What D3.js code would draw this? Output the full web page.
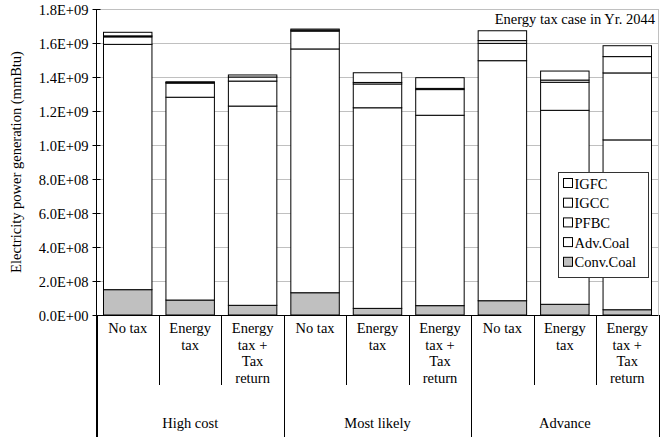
<!DOCTYPE html>
<html><head><meta charset="utf-8">
<script src="https://cdn.jsdelivr.net/npm/d3@7"></script>
<style>body{margin:0;background:#fff}svg{display:block}text{font-family:"Liberation Serif","Times New Roman",serif;fill:#000}</style>
</head><body><svg id="c" width="666" height="437"></svg>
<script>
const groups = ["High cost", "Most likely", "Advance"];
const subCats = [["No tax"], ["Energy", "tax"], ["Energy", "tax +", "Tax", "return"]];
const seriesNames = ["Conv.Coal", "Adv.Coal", "PFBC", "IGCC", "IGFC"];
const convCoal = [0.149e9, 0.088e9, 0.057e9, 0.131e9, 0.039e9, 0.055e9, 0.084e9, 0.063e9, 0.031e9];
const advCoal  = [1.443e9, 1.193e9, 1.172e9, 1.434e9, 1.180e9, 1.120e9, 1.412e9, 1.141e9, 0.999e9];
const pfbc     = [0.044e9, 0.083e9, 0.147e9, 0.105e9, 0.140e9, 0.151e9, 0.102e9, 0.165e9, 0.394e9];
const igcc     = [0.006e9, 0.004e9, 0.024e9, 0.005e9, 0.009e9, 0.007e9, 0.016e9, 0.013e9, 0.096e9];
const igfc     = [0.021e9, 0.004e9, 0.012e9, 0.007e9, 0.057e9, 0.063e9, 0.058e9, 0.053e9, 0.064e9];
const yTicks = [0, 2e8, 4e8, 6e8, 8e8, 1e9, 1.2e9, 1.4e9, 1.6e9, 1.8e9];
const titleText = "Energy tax case in Yr. 2044";
const yLabel = "Electricity power generation (mmBtu)";

const seriesVals = [convCoal, advCoal, pfbc, igcc, igfc];
const fills = ["#c0c0c0", "#ffffff", "#ffffff", "#ffffff", "#ffffff"];
const FS = 14.5;
const bars = [];
groups.forEach((g, gi) => subCats.forEach((s, si) => bars.push({g: gi, s: si})));
const rows = bars.map((b, i) => {
  const r = {id: i};
  seriesNames.forEach((n, k) => r[n] = seriesVals[k][i]);
  return r;
});
const stack = d3.stack().keys(seriesNames)(rows);

const svg = d3.select("#c");
const L = 96.5, R = 658.5, T = 9, B = 315;
const x = d3.scaleBand().domain(d3.range(bars.length)).range([L, R]).paddingInner(0.224).paddingOuter(0.112);
const y = d3.scaleLinear().domain([0, 1.8e9]).range([B, T]);

// gridlines
svg.append("g").selectAll("line").data(yTicks.slice(1)).join("line")
  .attr("x1", L).attr("x2", R).attr("y1", d => Math.round(y(d)) + 0.5).attr("y2", d => Math.round(y(d)) + 0.5)
  .attr("stroke", "#c0c0c0").attr("stroke-width", 1);
svg.append("line").attr("x1", R).attr("x2", R).attr("y1", T).attr("y2", B).attr("stroke", "#c0c0c0");

// bars
svg.append("g").selectAll("g").data(stack).join("g")
  .attr("fill", (d, i) => fills[i])
  .selectAll("rect").data(d => d).join("rect")
  .attr("x", (d, i) => x(i)).attr("width", x.bandwidth())
  .attr("y", d => y(d[1])).attr("height", d => y(d[0]) - y(d[1]))
  .attr("stroke", "#000").attr("stroke-width", 1);

// y axis
const yAxis = d3.axisLeft(y).tickValues(yTicks).tickSizeInner(4).tickSizeOuter(0)
  .tickFormat(d => { const e = d3.format(".1e")(d); return d === 0 ? "0.0E+00" : e.replace("e+", "E+0"); });
const ya = svg.append("g").attr("transform", `translate(${L},0)`).call(yAxis);
ya.attr("font-family", null).attr("font-size", null);
ya.select(".domain").remove();
ya.selectAll(".tick line").attr("x1", -4).attr("x2", 4).attr("stroke", "#000");
ya.selectAll(".tick text").attr("x", -8).attr("font-size", FS).attr("dy", "0.35em");
svg.append("line").attr("x1", L).attr("x2", L).attr("y1", T).attr("y2", 437).attr("stroke", "#000");

// x axis line
svg.append("line").attr("x1", L).attr("x2", R).attr("y1", B + 0.5).attr("y2", B + 0.5).attr("stroke", "#000");

// category separators
const xb = d3.range(bars.length + 1).map(i => L + i * (R - L) / bars.length);
svg.append("g").selectAll("line").data(xb).join("line")
  .attr("x1", d => Math.round(d) + 0.5).attr("x2", d => Math.round(d) + 0.5)
  .attr("y1", B).attr("y2", (d, i) => i % 3 === 0 ? 437 : 385)
  .attr("stroke", "#000");

// sub-category labels
bars.forEach((b, i) => {
  const cx = x(i) + x.bandwidth() / 2;
  const t = svg.append("text").attr("x", cx).attr("y", 333).attr("text-anchor", "middle").attr("font-size", FS);
  subCats[b.s].forEach((line, li) => t.append("tspan").attr("x", cx).attr("dy", li === 0 ? 0 : 16.5).text(line));
});
// group labels
groups.forEach((g, gi) => {
  const cx = (xb[gi * 3] + xb[gi * 3 + 3]) / 2;
  svg.append("text").attr("x", cx).attr("y", 428).attr("text-anchor", "middle").attr("font-size", FS).text(g);
});

// y label
svg.append("text").attr("transform", `translate(21,${(T + B) / 2}) rotate(-90)`)
  .attr("text-anchor", "middle").attr("font-size", FS).text(yLabel);

// title
svg.append("text").attr("x", 655).attr("y", 24).attr("text-anchor", "end").attr("font-size", FS).text(titleText);

// legend
const lg = svg.append("g").attr("transform", "translate(558.5,172.5)");
lg.append("rect").attr("width", 90).attr("height", 105).attr("fill", "#fff").attr("stroke", "#333");
seriesNames.slice().reverse().forEach((n, i) => {
  const k = seriesNames.length - 1 - i;
  const yy = 11 + i * 19.7;
  lg.append("rect").attr("x", 5).attr("y", yy - 5).attr("width", 9).attr("height", 9)
    .attr("fill", fills[k]).attr("stroke", "#000");
  lg.append("text").attr("x", 16).attr("y", yy + 5).attr("font-size", FS).text(n);
});
</script></body></html>
